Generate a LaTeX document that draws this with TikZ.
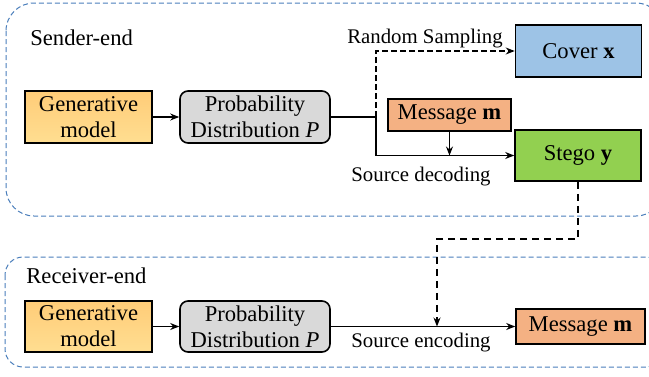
\documentclass[tikz,border=0pt]{standalone}
\usepackage{fontspec}
\setmainfont{LiberationSerif}[Extension=.ttf,UprightFont=*-Regular,BoldFont=*-Bold,ItalicFont=*-Italic,BoldItalicFont=*-BoldItalic]
\usetikzlibrary{arrows.meta}
\definecolor{framecol}{RGB}{74,126,187}
\definecolor{gentop}{RGB}{255,204,120}
\definecolor{genbot}{RGB}{255,222,145}
\definecolor{probcol}{RGB}{217,217,217}
\definecolor{covercol}{RGB}{157,195,230}
\definecolor{msgcol}{RGB}{244,177,131}
\definecolor{stegocol}{RGB}{146,208,80}
\begin{document}
\begin{tikzpicture}[x=0.5pt,y=-0.5pt,>={Stealth[length=4.5pt,width=3.5pt]},
  box/.style={draw,line width=0.8pt,inner sep=0pt,align=center,font=\fontsize{11.3}{13}\selectfont},
  genbox/.style={box,top color=gentop,bottom color=genbot,minimum width=63.5pt,minimum height=26pt},
  probbox/.style={box,fill=probcol,rounded corners=4pt,minimum width=75pt,minimum height=26pt},
  note/.style={font=\fontsize{10.4}{12}\selectfont,inner sep=0pt},
  endframe/.style={draw=framecol,line width=0.5pt,dash pattern=on 2.5pt off 1.5pt}]

\useasboundingbox (0,0) rectangle (649,376);
\clip (0,0) rectangle (649,376);

% The two frames
\draw[endframe,rounded corners=14pt] (6,3) rectangle (664,216);
\draw[endframe,rounded corners=9pt] (5,257) rectangle (664,367);
\node[anchor=west,inner sep=0pt,font=\fontsize{11.3}{13}\selectfont] (sender) at (30,38) {Sender-end};
\node[anchor=west,inner sep=0pt,font=\fontsize{11.3}{13}\selectfont] (receiver) at (26,276) {Receiver-end};

% Sender-end
\node[genbox] (genS) at (88.5,117) {Generative\\model};
\node[probbox] (probS) at (255,117) {Probability\\Distribution \textit{P}};
\node[box,fill=covercol,minimum width=63pt,minimum height=26pt] (cover) at (578.5,51) {Cover \textbf{x}};
\node[box,fill=msgcol,minimum width=61.5pt,minimum height=16pt] (msgS) at (449.5,115) {Message \textbf{m}};
\node[box,fill=stegocol,minimum width=63pt,minimum height=25.5pt] (stego) at (578,155.5) {Stego \textbf{y}};
\node[note] (sampling) at (425,39) {Random Sampling};
\node[note] (decoding) at (421,177) {Source decoding};

\coordinate (split) at (376,117);
\coordinate (join) at (msgS.south |- stego.west);

\draw[->,line width=0.6pt] (genS) -- (probS);
\draw[line width=0.6pt] (probS.east) -- (split);
\draw[->,line width=0.6pt] (split) |- (stego.west);
\draw[->,line width=0.6pt] (msgS.south) -- (join);
\draw[->,line width=0.6pt,dash pattern=on 3pt off 1.5pt] (split) |- (cover.west);

% Receiver-end
\node[genbox,minimum height=25.5pt] (genR) at (88.5,326.5) {Generative\\model};
\node[probbox,minimum height=25.5pt] (probR) at (255,326.5) {Probability\\Distribution \textit{P}};
\node[box,fill=msgcol,minimum width=64.5pt,minimum height=17.5pt] (msgR) at (580.5,326.5) {Message \textbf{m}};
\node[note] (encoding) at (421,343) {Source encoding};

\coordinate (bend) at (437,239);
\coordinate (meet) at (437,326.5);

\draw[->,line width=0.6pt] (genR) -- (probR);
\draw[->,line width=0.6pt] (probR.east) -- (msgR.west);

% The channel
\draw[->,line width=1.3pt,dash pattern=on 3.5pt off 2.5pt] (stego.south) |- (bend) -- (meet);

\end{tikzpicture}
\end{document}
